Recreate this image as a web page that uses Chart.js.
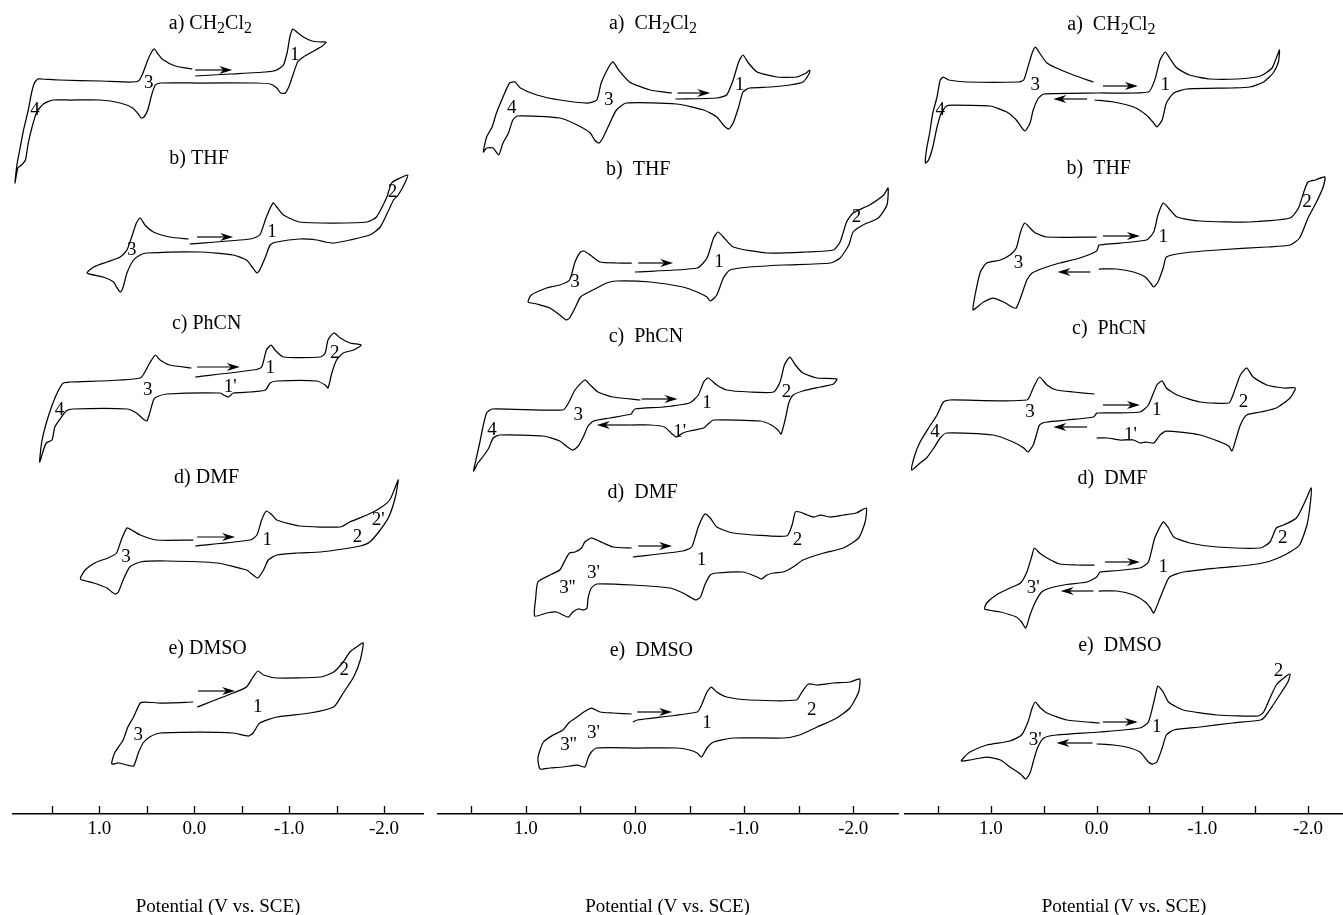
<!DOCTYPE html>
<html>
<head>
<meta charset="utf-8">
<title>Cyclic voltammograms in five solvents</title>
<script src="https://cdn.jsdelivr.net/npm/chart.js@4.4.1/dist/chart.umd.min.js"></script>
<style>
  html, body { margin: 0; padding: 0; background: #fff; }
  #wrap { position: relative; width: 1343px; height: 915px; overflow: hidden; background: #fff; }
  canvas { position: absolute; top: 0; }
</style>
</head>
<body>
<div id="wrap">
  <canvas id="cvLeft" width="437" height="915" style="left:0px"></canvas>
  <canvas id="cvMiddle" width="463" height="915" style="left:437px"></canvas>
  <canvas id="cvRight" width="443" height="915" style="left:900px"></canvas>
</div>
<script>
// ---------------------------------------------------------------
// Data: potential E (V vs. SCE) and current i (arbitrary units,
// cathodic up) for every voltammogram; null splits two scans.
// ---------------------------------------------------------------
const solvents = ['CH2Cl2', 'THF', 'PhCN', 'DMF', 'DMSO'];
const rowLetters = ['a', 'b', 'c', 'd', 'e'];
const tickLabelValues = [1.0, 0.0, -1.0, -2.0];
const axisTitle = 'Potential (V vs. SCE)';

// left column
const left_CH2Cl2 = [
  [-0.01,0],[-0.38,2],[-0.75,4],[-0.87,6],[-0.94,11],[-0.98,24],[-1.01,40],[-1.04,47],[-1.08,44],[-1.15,39],[-1.24,35],[-1.33,34],[-1.39,34],
  [-1.35,30],[-1.24,24],[-1.15,19],[-1.09,14],[-1.04,1],[-1.00,-10],[-0.96,-17],[-0.91,-17],[-0.87,-12],[-0.80,-8],[-0.64,-7],[-0.06,-7],[0.36,-7],[0.41,-9],[0.45,-19],[0.49,-34],[0.53,-41],[0.56,-42],[0.59,-38],[0.65,-32],[0.78,-27],[0.99,-24],[1.31,-24],[1.49,-24],[1.59,-28],[1.66,-36],[1.71,-51],[1.75,-67],[1.78,-84],[1.82,-89],[1.86,-92],[1.89,-107],
  [1.87,-89],[1.84,-74],[1.80,-54],[1.75,-34],[1.72,-19],[1.69,-8],[1.65,-3],[1.61,-3],[1.42,-4],[0.99,-5],[0.68,-6],[0.59,-5],[0.55,1],[0.49,16],[0.45,24],[0.42,27],[0.39,23],[0.34,17],[0.20,10],[0.02,7]
];
const left_THF = [
  [0.05,0],[-0.59,5],[-0.69,9],[-0.76,27],[-0.83,41],[-0.87,37],[-0.94,29],[-1.11,22],[-1.47,21],[-1.82,22],[-1.92,27],[-2.03,47],[-2.08,61],[-2.17,66],[-2.25,69],
  [-2.22,61],[-2.15,49],[-2.10,44],[-2.05,34],[-1.96,17],[-1.85,9],[-1.64,4],[-1.47,1],[-1.38,2],[-1.29,4],[-1.11,5],[-0.87,2],[-0.80,-1],[-0.75,-13],[-0.69,-26],[-0.66,-29],[-0.61,-23],[-0.55,-16],[-0.41,-11],[-0.06,-8],[0.50,-9],[0.57,-11],[0.64,-16],[0.71,-29],[0.75,-43],[0.78,-48],[0.82,-43],[0.85,-38],[0.96,-33],[1.13,-29],
  [1.06,-23],[0.92,-18],[0.78,-13],[0.71,-6],[0.66,7],[0.61,21],[0.57,26],[0.52,19],[0.43,12],[0.26,7],[0.06,5]
];
const left_PhCN = [
  [-0.01,0],[-0.62,7],[-0.71,10],[-0.76,27],[-0.81,32],[-0.85,27],[-0.94,20],[-1.33,20],[-1.38,24],[-1.41,37],[-1.47,44],[-1.54,39],[-1.64,34],[-1.76,32],
  [-1.68,27],[-1.57,24],[-1.50,17],[-1.45,4],[-1.41,-11],[-1.38,-8],[-1.29,-4],[-0.87,-4],[-0.80,-6],[-0.75,-13],[-0.59,-15],[-0.41,-16],[-0.36,-20],[-0.31,-18],[-0.27,-16],[0.29,-17],[0.40,-20],[0.43,-23],[0.47,-36],[0.50,-44],[0.55,-41],[0.61,-36],[0.71,-32],[1.28,-32],[1.35,-34],[1.40,-40],[1.47,-50],[1.50,-63],[1.56,-66],[1.59,-73],[1.63,-85],
  [1.61,-66],[1.56,-46],[1.49,-26],[1.43,-13],[1.38,-6],[1.31,-5],[0.57,-1],[0.47,14],[0.41,22],[0.36,17],[0.26,12],[0.03,9]
];
const left_DMF = [
  [-0.01,0],[-0.59,6],[-0.66,11],[-0.71,26],[-0.76,35],[-0.82,31],[-0.87,26],[-1.11,20],[-1.54,19],[-1.64,24],[-1.82,31],[-1.96,38],[-2.06,46],[-2.12,59],[-2.15,66],
  [-2.12,49],[-2.05,29],[-1.96,16],[-1.85,4],[-1.75,0],[-1.57,-3],[-1.33,-6],[-1.08,-7],[-0.87,-9],[-0.78,-14],[-0.73,-24],[-0.67,-32],[-0.62,-29],[-0.55,-24],[-0.24,-17],[0.29,-15],[0.57,-16],[0.68,-21],[0.75,-34],[0.80,-46],[0.83,-48],[0.87,-46],[0.92,-42],[1.06,-37],[1.20,-33],
  [1.15,-24],[1.03,-16],[0.91,-12],[0.82,-7],[0.77,6],[0.71,18],[0.66,16],[0.57,11],[0.40,6],[0.01,6]
];
const left_DMSO = [
  [-0.03,0],[-0.41,14],[-0.55,20],[-0.62,30],[-0.67,36],[-0.73,32],[-0.87,29],[-1.33,30],[-1.47,35],[-1.57,45],[-1.64,55],[-1.71,60],[-1.78,64],
  [-1.75,47],[-1.68,30],[-1.57,14],[-1.47,0],[-1.22,-6],[-0.87,-10],[-0.69,-16],[-0.62,-26],[-0.57,-29],[-0.41,-26],[-0.06,-25],[0.36,-26],[0.47,-30],[0.54,-36],[0.59,-46],[0.64,-59],[0.71,-58],[0.80,-56],[0.87,-57],
  [0.84,-46],[0.75,-33],[0.70,-20],[0.64,-10],[0.57,4],[0.52,5],[0.36,4],[0.01,5]
];

// middle column
const middle_CH2Cl2 = [
  [-0.37,0],[-0.75,1],[-0.84,4],[-0.90,19],[-0.95,37],[-0.99,44],[-1.04,36],[-1.12,27],[-1.30,22],[-1.48,22],[-1.57,26],[-1.60,29],
  [-1.60,26],[-1.54,17],[-1.42,14],[-1.24,12],[-1.05,11],[-0.99,7],[-0.95,-8],[-0.90,-24],[-0.86,-30],[-0.81,-26],[-0.75,-18],[-0.63,-11],[-0.38,-5],[0.08,-4],[0.17,-11],[0.23,-24],[0.29,-38],[0.33,-44],[0.37,-41],[0.41,-34],[0.53,-26],[0.69,-19],[1.08,-17],[1.12,-21],[1.16,-34],[1.21,-44],[1.25,-56],[1.30,-49],[1.36,-49],[1.39,-53],
  [1.36,-38],[1.31,-28],[1.27,-14],[1.21,2],[1.15,16],[1.10,17],[1.05,11],[0.90,4],[0.69,-1],[0.44,-4],[0.35,-1],[0.31,16],[0.23,34],[0.20,37],[0.15,29],[0.05,17],[-0.14,9],[-0.34,6]
];
const middle_THF = [
  [0.00,0],[-0.57,4],[-0.66,14],[-0.72,34],[-0.76,40],[-0.81,35],[-0.90,25],[-1.21,19],[-1.57,20],[-1.82,22],[-1.88,30],[-1.94,50],[-2.00,59],[-2.15,67],[-2.28,77],[-2.32,84],
  [-2.31,67],[-2.23,54],[-2.09,47],[-2.00,40],[-1.96,27],[-1.88,14],[-1.79,9],[-1.36,7],[-1.05,5],[-0.87,2],[-0.81,-6],[-0.75,-23],[-0.69,-29],[-0.66,-25],[-0.57,-20],[-0.44,-15],[-0.14,-10],[0.17,-9],[0.26,-11],[0.35,-16],[0.44,-21],[0.50,-25],[0.55,-36],[0.60,-46],[0.63,-48],[0.69,-43],[0.78,-36],[0.90,-32],[0.98,-30],
  [0.95,-23],[0.81,-16],[0.69,-13],[0.60,-8],[0.55,10],[0.50,20],[0.47,21],[0.41,17],[0.32,10],[0.17,9],[0.03,9]
];
const middle_PhCN = [
  [0.03,0],[0.00,4],[-0.26,6],[-0.50,10],[-0.58,18],[-0.63,31],[-0.67,35],[-0.75,28],[-0.84,23],[-1.05,21],[-1.27,21],[-1.33,31],[-1.37,48],[-1.42,56],[-1.47,48],[-1.54,40],[-1.67,35],[-1.85,34],
  [-1.82,29],[-1.70,26],[-1.54,22],[-1.45,18],[-1.41,10],[-1.38,-5],[-1.34,-21],[-1.31,-17],[-1.25,-12],[-1.15,-8],[-0.72,-7],[-0.67,-11],[-0.63,-15],[-0.50,-18],[-0.44,-20],[-0.38,-24],[-0.34,-21],[-0.27,-14],[-0.14,-12],[0.03,-12],
  null,
  [0.03,0],[0.03,-1],[0.23,-5],[0.38,-8],[0.43,-13],[0.47,-23],[0.52,-33],[0.57,-37],[0.63,-33],[0.69,-28],[0.84,-23],[1.24,-22],[1.30,-25],[1.34,-35],[1.39,-43],[1.44,-50],[1.48,-58],
  [1.45,-43],[1.42,-28],[1.39,-12],[1.36,0],[1.31,4],[0.66,3],[0.61,10],[0.55,23],[0.46,33],[0.41,28],[0.34,21],[0.20,16],[-0.05,13]
];
const middle_DMF = [
  [0.02,0],[-0.44,6],[-0.52,10],[-0.58,30],[-0.64,43],[-0.69,39],[-0.75,30],[-0.90,24],[-1.39,21],[-1.44,32],[-1.47,45],[-1.51,45],[-1.58,42],[-1.64,40],[-1.70,42],[-1.79,40],[-1.91,42],[-2.03,44],[-2.12,49],
  [-2.11,35],[-2.05,19],[-1.91,9],[-1.73,4],[-1.54,-3],[-1.45,-10],[-1.36,-15],[-1.27,-16],[-1.21,-18],[-1.16,-22],[-1.12,-20],[-0.99,-15],[-0.75,-16],[-0.69,-18],[-0.64,-28],[-0.60,-40],[-0.56,-43],[-0.52,-41],[-0.44,-36],[-0.32,-31],[0.02,-28],[0.35,-27],[0.40,-31],[0.43,-41],[0.44,-51],[0.47,-53],[0.52,-52],[0.57,-55],[0.61,-60],[0.66,-58],[0.72,-55],[0.81,-56],[0.92,-59],
  [0.91,-41],[0.89,-25],[0.78,-18],[0.69,-13],[0.63,-1],[0.60,4],[0.55,5],[0.49,9],[0.46,15],[0.40,19],[0.35,17],[0.29,14],[0.20,10],[0.03,9]
];
const middle_DMSO = [
  [0.02,0],[-0.02,2],[-0.57,10],[-0.61,17],[-0.66,30],[-0.70,35],[-0.75,30],[-0.84,25],[-1.05,22],[-1.48,22],[-1.53,30],[-1.59,38],[-1.67,37],[-1.82,39],[-1.97,40],[-2.06,43],
  [-2.05,30],[-1.97,14],[-1.85,4],[-1.67,-5],[-1.51,-13],[-1.36,-16],[-0.90,-16],[-0.72,-20],[-0.66,-26],[-0.61,-35],[-0.57,-31],[-0.50,-28],[-0.38,-26],[-0.02,-26],[0.35,-26],[0.40,-30],[0.43,-36],[0.46,-45],[0.53,-43],[0.66,-45],[0.78,-46],[0.87,-47],
  [0.89,-36],[0.84,-20],[0.75,-13],[0.66,-8],[0.60,0],[0.53,5],[0.47,10],[0.40,14],[0.32,10],[0.20,9],[0.03,8]
];

// right column
const right_CH2Cl2 = [
  [0.03,11],[0.22,18],[0.38,25],[0.47,30],[0.54,40],[0.58,46],[0.61,40],[0.65,26],[0.69,13],[0.74,11],[1.23,11],[1.40,13],[1.45,16],[1.48,13],[1.51,-4],[1.55,-20],[1.58,-40],[1.61,-57],[1.62,-70],
  [1.59,-67],[1.55,-54],[1.51,-34],[1.47,-20],[1.42,-13],[1.36,-12],[1.01,-13],[0.85,-19],[0.76,-27],[0.68,-38],[0.63,-30],[0.60,-17],[0.55,-5],[0.50,-1],[-0.03,0],[-0.49,1],[-0.55,13],[-0.60,33],[-0.65,41],[-0.69,35],[-0.76,25],[-0.88,18],[-1.07,14],[-1.33,14],[-1.55,17],[-1.66,25],[-1.70,35],[-1.73,43],
  [-1.72,31],[-1.67,20],[-1.58,11],[-1.45,6],[-1.29,5],[-0.85,4],[-0.73,0],[-0.66,-10],[-0.62,-27],[-0.57,-34],[-0.54,-30],[-0.47,-22],[-0.35,-14],[-0.16,-9],[0.02,-7]
];
const right_THF = [
  [-0.02,0],[-0.47,5],[-0.54,13],[-0.58,30],[-0.63,42],[-0.68,37],[-0.76,28],[-0.98,24],[-1.45,23],[-1.83,27],[-1.91,37],[-1.96,53],[-2.00,63],[-2.07,65],[-2.16,68],
  [-2.14,57],[-2.08,43],[-2.00,27],[-1.92,7],[-1.83,0],[-1.61,-2],[-1.14,-5],[-0.82,-8],[-0.66,-12],[-0.63,-23],[-0.58,-37],[-0.54,-42],[-0.51,-38],[-0.46,-32],[-0.35,-27],[-0.19,-24],[-0.02,-24],
  null,
  [-0.02,0],[0.00,-6],[0.16,-13],[0.35,-18],[0.50,-23],[0.61,-28],[0.66,-35],[0.71,-50],[0.76,-63],[0.80,-62],[0.88,-57],[0.98,-53],[1.07,-57],[1.13,-62],[1.17,-65],
  [1.15,-50],[1.10,-27],[1.04,-18],[0.91,-15],[0.82,-10],[0.76,-3],[0.72,13],[0.68,22],[0.63,17],[0.58,12],[0.47,8],[0.00,8]
];
const right_PhCN = [
  [0.00,0],[-0.41,1],[-0.49,8],[-0.57,28],[-0.62,32],[-0.66,25],[-0.76,18],[-0.98,11],[-1.25,10],[-1.29,18],[-1.36,38],[-1.42,45],[-1.48,36],[-1.61,28],[-1.77,25],[-1.88,25],
  [-1.83,15],[-1.70,5],[-1.55,1],[-1.42,-2],[-1.36,-12],[-1.31,-29],[-1.28,-38],[-1.25,-33],[-1.17,-29],[-0.98,-22],[-0.66,-18],[-0.60,-22],[-0.54,-30],[-0.47,-29],[-0.41,-30],[-0.35,-27],[-0.22,-27],[-0.10,-25],[0.00,-25],
  null,
  [0.00,0],[0.03,-4],[0.28,-7],[0.47,-9],[0.54,-12],[0.57,-22],[0.60,-32],[0.65,-39],[0.69,-35],[0.79,-29],[0.98,-22],[1.42,-20],[1.48,-25],[1.54,-35],[1.61,-45],[1.67,-50],[1.75,-57],
  [1.72,-42],[1.67,-29],[1.59,-15],[1.51,-2],[1.45,11],[1.39,13],[0.66,13],[0.60,25],[0.54,36],[0.47,28],[0.38,23],[0.22,21],[0.02,19]
];
const right_DMF = [
  [-0.03,0],[-0.41,4],[-0.49,10],[-0.55,34],[-0.63,50],[-0.68,44],[-0.73,35],[-0.88,29],[-1.14,25],[-1.55,24],[-1.64,30],[-1.70,44],[-1.77,47],[-1.89,54],[-1.97,70],[-2.03,84],
  [-2.02,67],[-1.99,47],[-1.92,27],[-1.83,20],[-1.74,15],[-1.61,10],[-1.45,7],[-1.14,4],[-0.82,0],[-0.69,-5],[-0.65,-13],[-0.60,-26],[-0.54,-41],[-0.51,-36],[-0.46,-30],[-0.35,-23],[-0.19,-19],[-0.02,-19],
  null,
  [-0.03,0],[0.00,-5],[0.09,-10],[0.31,-13],[0.44,-16],[0.52,-20],[0.58,-30],[0.63,-43],[0.67,-56],[0.71,-50],[0.76,-45],[0.91,-40],[1.06,-37],
  [1.04,-31],[0.95,-23],[0.82,-16],[0.72,-11],[0.66,0],[0.61,17],[0.59,24],[0.54,19],[0.47,14],[0.35,8],[0.19,7],[0.02,7]
];
const right_DMSO = [
  [-0.03,9],[0.28,12],[0.47,19],[0.54,25],[0.58,30],[0.61,24],[0.65,10],[0.71,-3],[0.82,-9],[1.04,-13],[1.20,-20],[1.26,-26],[1.28,-29],
  [1.20,-28],[1.04,-25],[0.91,-28],[0.82,-35],[0.72,-42],[0.67,-47],[0.63,-41],[0.60,-30],[0.56,-16],[0.50,-6],[0.38,-3],[-0.03,0],[-0.41,4],[-0.49,10],[-0.55,34],[-0.58,46],[-0.63,40],[-0.68,30],[-0.82,22],[-1.14,17],[-1.53,16],[-1.58,20],[-1.64,34],[-1.70,47],[-1.77,54],[-1.83,58],
  [-1.81,50],[-1.75,40],[-1.67,27],[-1.59,15],[-1.55,12],[-1.29,9],[-0.98,5],[-0.73,2],[-0.66,-3],[-0.62,-16],[-0.57,-30],[-0.53,-32],[-0.49,-30],[-0.41,-20],[-0.28,-15],[-0.16,-13],[0.00,-12]
];

// ---------------------------------------------------------------
// Layout: potential window of each panel, vertical stacking of the
// five traces, and the annotations (labels and scan arrows).
// ---------------------------------------------------------------
const FONT = '"Liberation Serif", "Times New Roman", serif';

const panels = [
  {
    canvas: 'cvLeft', min: -2.411, max: 1.911, padL: 13, padR: 14, gap: ' ',
    curves: [left_CH2Cl2, left_THF, left_PhCN, left_DMF, left_DMSO],
    offsets: [738, 570, 437, 268, 107],
    titlePos: [[-0.17, 792], [-0.05, 657], [-0.13, 492], [-0.13, 338], [-0.14, 167]],
    peaks: [
      ['3', 0.48, 731], ['1', -1.06, 759], ['4', 1.68, 704],
      ['3', 0.66, 564], ['1', -0.82, 582], ['2', -2.09, 622],
      ['3', 0.49, 424], ['1', -0.80, 446], ['2', -1.48, 461], ["1'", -0.38, 427], ['4', 1.42, 404],
      ['3', 0.72, 257], ['1', -0.77, 274], ['2', -1.72, 277], ["2'", -1.94, 294],
      ['3', 0.59, 79], ['1', -0.67, 107], ['2', -1.58, 144]
    ],
    arrows: [[-0.01, -0.40, 744], [-0.03, -0.41, 577], [-0.03, -0.48, 447], [-0.03, -0.43, 277], [-0.04, -0.43, 123]]
  },
  {
    canvas: 'cvMiddle', min: -2.411, max: 1.815, padL: 0, padR: 2, gap: '  ',
    curves: [middle_CH2Cl2, middle_THF, middle_PhCN, middle_DMF, middle_DMSO],
    offsets: [715, 542, 401, 257, 92],
    titlePos: [[-0.165, 792], [-0.03, 646], [-0.10, 479], [-0.07, 323], [-0.15, 165]],
    peaks: [
      ['4', 1.13, 706], ['3', 0.24, 714], ['1', -0.96, 729],
      ['3', 0.55, 532], ['1', -0.77, 552], ['2', -2.03, 597],
      ['4', 1.31, 384], ['3', 0.52, 399], ['1', -0.66, 411], ['2', -1.39, 422], ["1'", -0.41, 382],
      ["3''", 0.62, 226], ["3'", 0.38, 241], ['1', -0.61, 254], ['2', -1.49, 274],
      ["3''", 0.61, 69], ["3'", 0.38, 81], ['1', -0.66, 91], ['2', -1.62, 104]
    ],
    arrows: [[-0.39, -0.69, 721], [-0.03, -0.35, 551], [-0.06, -0.39, 415], [0.03, 0.35, 389], [-0.03, -0.34, 268], [-0.02, -0.34, 102]]
  },
  {
    canvas: 'cvRight', min: -2.331, max: 1.813, padL: 5, padR: 0, gap: '  ',
    curves: [right_CH2Cl2, right_THF, right_PhCN, right_DMF, right_DMSO],
    offsets: [721, 569, 401, 242, 82],
    titlePos: [[-0.14, 791], [-0.02, 647], [-0.12, 487], [-0.15, 337], [-0.22, 170]],
    peaks: [
      ['3', 0.58, 729], ['1', -0.65, 729], ['4', 1.48, 704],
      ['3', 0.74, 551], ['1', -0.63, 577], ['2', -1.99, 612],
      ['3', 0.63, 402], ['1', -0.57, 404], ['2', -1.39, 412], ['4', 1.53, 382], ["1'", -0.32, 379],
      ["3'", 0.60, 226], ['1', -0.63, 247], ['2', -1.76, 276],
      ["3'", 0.58, 74], ['1', -0.57, 87], ['2', -1.72, 143]
    ],
    arrows: [
      [-0.06, -0.39, 728], [0.09, 0.41, 715],
      [-0.06, -0.41, 578], [0.06, 0.37, 542],
      [-0.06, -0.41, 409], [0.09, 0.41, 387],
      [-0.08, -0.41, 252], [0.03, 0.34, 223],
      [-0.06, -0.39, 92], [0.04, 0.38, 71]
    ]
  }
];

// split "CH2Cl2" into normal runs and subscript digits
function richParts(text) {
  const parts = [];
  const re = /(\d+)/g;
  let last = 0, m;
  while ((m = re.exec(text)) !== null) {
    const prev = text[m.index - 1];
    if (prev && /[A-Za-z]/.test(prev)) {
      if (m.index > last) parts.push([text.slice(last, m.index), false]);
      parts.push([m[1], true]);
      last = m.index + m[1].length;
    }
  }
  if (last < text.length) parts.push([text.slice(last), false]);
  return parts;
}

function drawRich(ctx, text, cx, cyMid) {
  const main = '20px ' + FONT, sub = '16px ' + FONT;
  const parts = richParts(text);
  let w = 0;
  parts.forEach(([t, s]) => { ctx.font = s ? sub : main; w += ctx.measureText(t).width; });
  let x = cx - w / 2;
  const base = cyMid + 7;
  ctx.textAlign = 'left';
  ctx.textBaseline = 'alphabetic';
  parts.forEach(([t, s]) => {
    ctx.font = s ? sub : main;
    ctx.fillText(t, x, base + (s ? 4 : 0));
    x += ctx.measureText(t).width;
  });
}

function drawArrow(ctx, x1, x2, y) {
  const dir = x2 > x1 ? 1 : -1;
  ctx.beginPath();
  ctx.lineWidth = 1.2;
  ctx.moveTo(x1, y);
  ctx.lineTo(x2 - dir * 6, y);
  ctx.stroke();
  ctx.beginPath();
  ctx.moveTo(x2, y);
  ctx.lineTo(x2 - dir * 13, y - 4);
  ctx.lineTo(x2 - dir * 9, y);
  ctx.lineTo(x2 - dir * 13, y + 4);
  ctx.closePath();
  ctx.fill();
}

function annotationPlugin(panel) {
  return {
    id: 'cvAnnotations',
    afterDraw(chart) {
      const { ctx, scales: { x, y } } = chart;
      ctx.save();
      ctx.fillStyle = '#000';
      ctx.strokeStyle = '#000';
      // tick marks point up from the potential axis
      const axisY = x.top;
      ctx.lineWidth = 1.3;
      x.ticks.forEach(t => {
        const px = Math.round(x.getPixelForValue(t.value)) + 0.5;
        ctx.beginPath();
        ctx.moveTo(px, axisY);
        ctx.lineTo(px, axisY - 8);
        ctx.stroke();
      });
      // solvent titles
      panel.titlePos.forEach((p, r) => {
        drawRich(ctx, rowLetters[r] + ')' + panel.gap + solvents[r], x.getPixelForValue(p[0]), y.getPixelForValue(p[1]));
      });
      // wave numbers
      ctx.font = '19px ' + FONT;
      ctx.textAlign = 'center';
      ctx.textBaseline = 'middle';
      panel.peaks.forEach(([t, e, v]) => ctx.fillText(t, x.getPixelForValue(e), y.getPixelForValue(v)));
      // scan direction arrows
      panel.arrows.forEach(([e1, e2, v]) => drawArrow(ctx, x.getPixelForValue(e1), x.getPixelForValue(e2), y.getPixelForValue(v)));
      ctx.restore();
    }
  };
}

function tickLabel(value) {
  const hit = tickLabelValues.find(v => Math.abs(v - value) < 1e-6);
  if (hit === undefined) return '';
  return hit === 0 ? '0.0' : hit.toFixed(1);
}

panels.forEach(panel => {
  const datasets = panel.curves.map((pts, r) => ({
    data: pts.map(p => p ? { x: p[0], y: panel.offsets[r] + p[1] } : { x: null, y: null }),
    showLine: true,
    borderColor: '#000',
    borderWidth: 1.25,
    pointRadius: 0,
    pointHoverRadius: 0,
    tension: 0.2,
    fill: false,
    spanGaps: false,
    clip: false
  }));
  new Chart(document.getElementById(panel.canvas), {
    type: 'scatter',
    data: { datasets },
    plugins: [annotationPlugin(panel)],
    options: {
      responsive: false,
      animation: false,
      events: [],
      layout: { padding: { left: panel.padL, right: panel.padR, top: 0, bottom: 0 } },
      plugins: { legend: { display: false }, tooltip: { enabled: false } },
      scales: {
        x: {
          type: 'linear',
          position: 'bottom',
          reverse: true,
          min: panel.min,
          max: panel.max,
          afterFit: s => { s.height = 101; },
          border: { display: true, color: '#000', width: 1.4 },
          grid: { display: true, drawOnChartArea: false, drawTicks: false },
          ticks: {
            stepSize: 0.5,
            includeBounds: false,
            autoSkip: false,
            maxRotation: 0,
            padding: 4,
            color: '#000',
            font: { family: FONT, size: 19 },
            callback: v => tickLabel(v)
          },
          title: {
            display: true,
            text: axisTitle,
            color: '#000',
            font: { family: FONT, size: 19, lineHeight: 0.84 },
            padding: { top: 0, bottom: 0 }
          }
        },
        y: { display: false, min: 0, max: 814 }
      }
    }
  });
});
</script>
</body>
</html>
